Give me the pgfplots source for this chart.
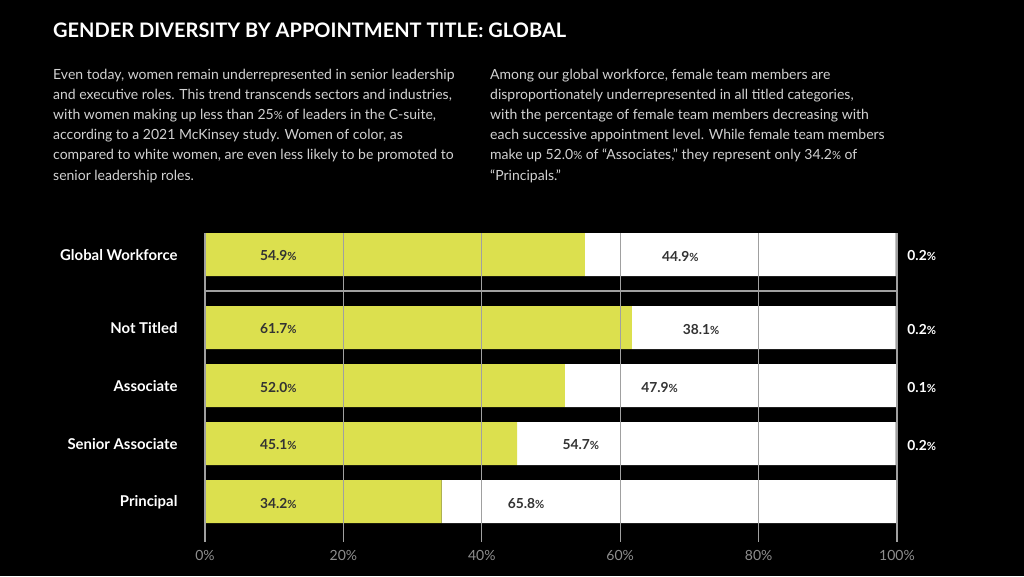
\documentclass[border=0pt]{standalone}
\usepackage{pgfplots}
\pgfplotsset{compat=1.18}
\usepackage{fontspec}
\setmainfont{Lato}
\definecolor{barlime}{HTML}{DCE04E}
\definecolor{gridgray}{HTML}{A0A0A0}
\definecolor{tickgray}{HTML}{8E8E8E}
\definecolor{bodygray}{HTML}{D2D2D2}
\definecolor{labeldark}{HTML}{333333}
% the percent sign is set smaller in the source
\newcommand{\pct}{{\fontsize{11.2}{10}\selectfont\%}}
\pgfplotsset{
  chartbox/.style={
    scale only axis, width=692pt, height=309pt,
    at={(205pt,-542pt)}, anchor=south west,
    xmin=0, xmax=100, ymin=233, ymax=542, y dir=reverse,
  },
  valuelabels/.style={only marks, mark=none, point meta=explicit symbolic,
    nodes near coords={\pgfplotspointmeta\pct},
    every node near coord/.style={anchor=center, yshift=-1.5pt, font=\bfseries\fontsize{13.8}{13.8}\selectfont, #1}},
}
\begin{document}
\begin{tikzpicture}
\fill[black] (0,0) rectangle (1024pt,-576pt);
\node[anchor=west, text=white, font=\bfseries\fontsize{20}{20}\selectfont, inner sep=0pt] at (53pt,-30.5pt)
  {GENDER DIVERSITY BY APPOINTMENT TITLE: GLOBAL};
\node[anchor=north west, align=left, text=bodygray, font=\fontsize{14}{20.2}\selectfont, inner sep=0pt] at (53pt,-68.5pt)
  {Even today, women remain underrepresented in senior leadership\\
   and executive roles. This trend transcends sectors and industries,\\
   with women making up less than 25\pct{} of leaders in the C-suite,\\
   according to a 2021 McKinsey study. Women of color, as\\
   compared to white women, are even less likely to be promoted to\\
   senior leadership roles.};
\node[anchor=north west, align=left, text=bodygray, font=\fontsize{14}{20.2}\selectfont, inner sep=0pt] at (490pt,-68.5pt)
  {Among our global workforce, female team members are\\
   disproportionately underrepresented in all titled categories,\\
   with the percentage of female team members decreasing with\\
   each successive appointment level. While female team members\\
   make up 52.0\pct{} of ``Associates,'' they represent only 34.2\pct{} of\\
   ``Principals.''};

\begin{axis}[chartbox,
  xbar stacked, bar width=43,
  axis line style={draw=none},
  xtick={0,20,40,60,80,100},
  xticklabels={0\%,20\%,40\%,60\%,80\%,100\%},
  xmajorgrids, grid style={color=gridgray, line width=1.2pt},
  major tick length=0pt,
  xticklabel style={text=tickgray, font=\fontsize{14}{14}\selectfont, yshift=-4.5pt},
  ytick={254.5,327.5,385.5,443.5,501.5},
  yticklabels={Global Workforce,Not Titled,Associate,Senior Associate,Principal},
  yticklabel style={text=white, font=\bfseries\fontsize{14.9}{14.9}\selectfont, xshift=-24pt, yshift=-1pt},
  extra y ticks={291}, extra y tick labels={},
  extra y tick style={grid=major, major tick length=0pt},
  axis on top,
]
% female
\addplot[fill=barlime, draw=none] coordinates {(54.9,254.5) (61.7,327.5) (52.0,385.5) (45.1,443.5) (34.2,501.5)};
% male
\addplot[fill=white, draw=none] coordinates {(44.9,254.5) (38.1,327.5) (47.9,385.5) (54.7,443.5) (65.8,501.5)};
% other
\addplot[fill=white, draw=none] coordinates {(0.2,254.5) (0.2,327.5) (0.1,385.5) (0.2,443.5) (0.0,501.5)};
\end{axis}

\begin{axis}[chartbox, hide axis, clip=false]
\addplot[valuelabels={text=labeldark}] table[meta=lab] {
x y lab
10.6 254.5 54.9
10.6 327.5 61.7
10.6 385.5 52.0
10.6 443.5 45.1
10.6 501.5 34.2
};
\addplot[valuelabels={text=labeldark}] table[meta=lab] {
x y lab
68.7 254.5 44.9
71.7 327.5 38.1
65.7 385.5 47.9
54.3 443.5 54.7
46.4 501.5 65.8
};
\addplot[valuelabels={text=white, anchor=west}] table[meta=lab] {
x y lab
101.0 254.5 0.2
101.0 327.5 0.2
101.0 385.5 0.1
101.0 443.5 0.2
};
\end{axis}
\end{tikzpicture}
\end{document}
